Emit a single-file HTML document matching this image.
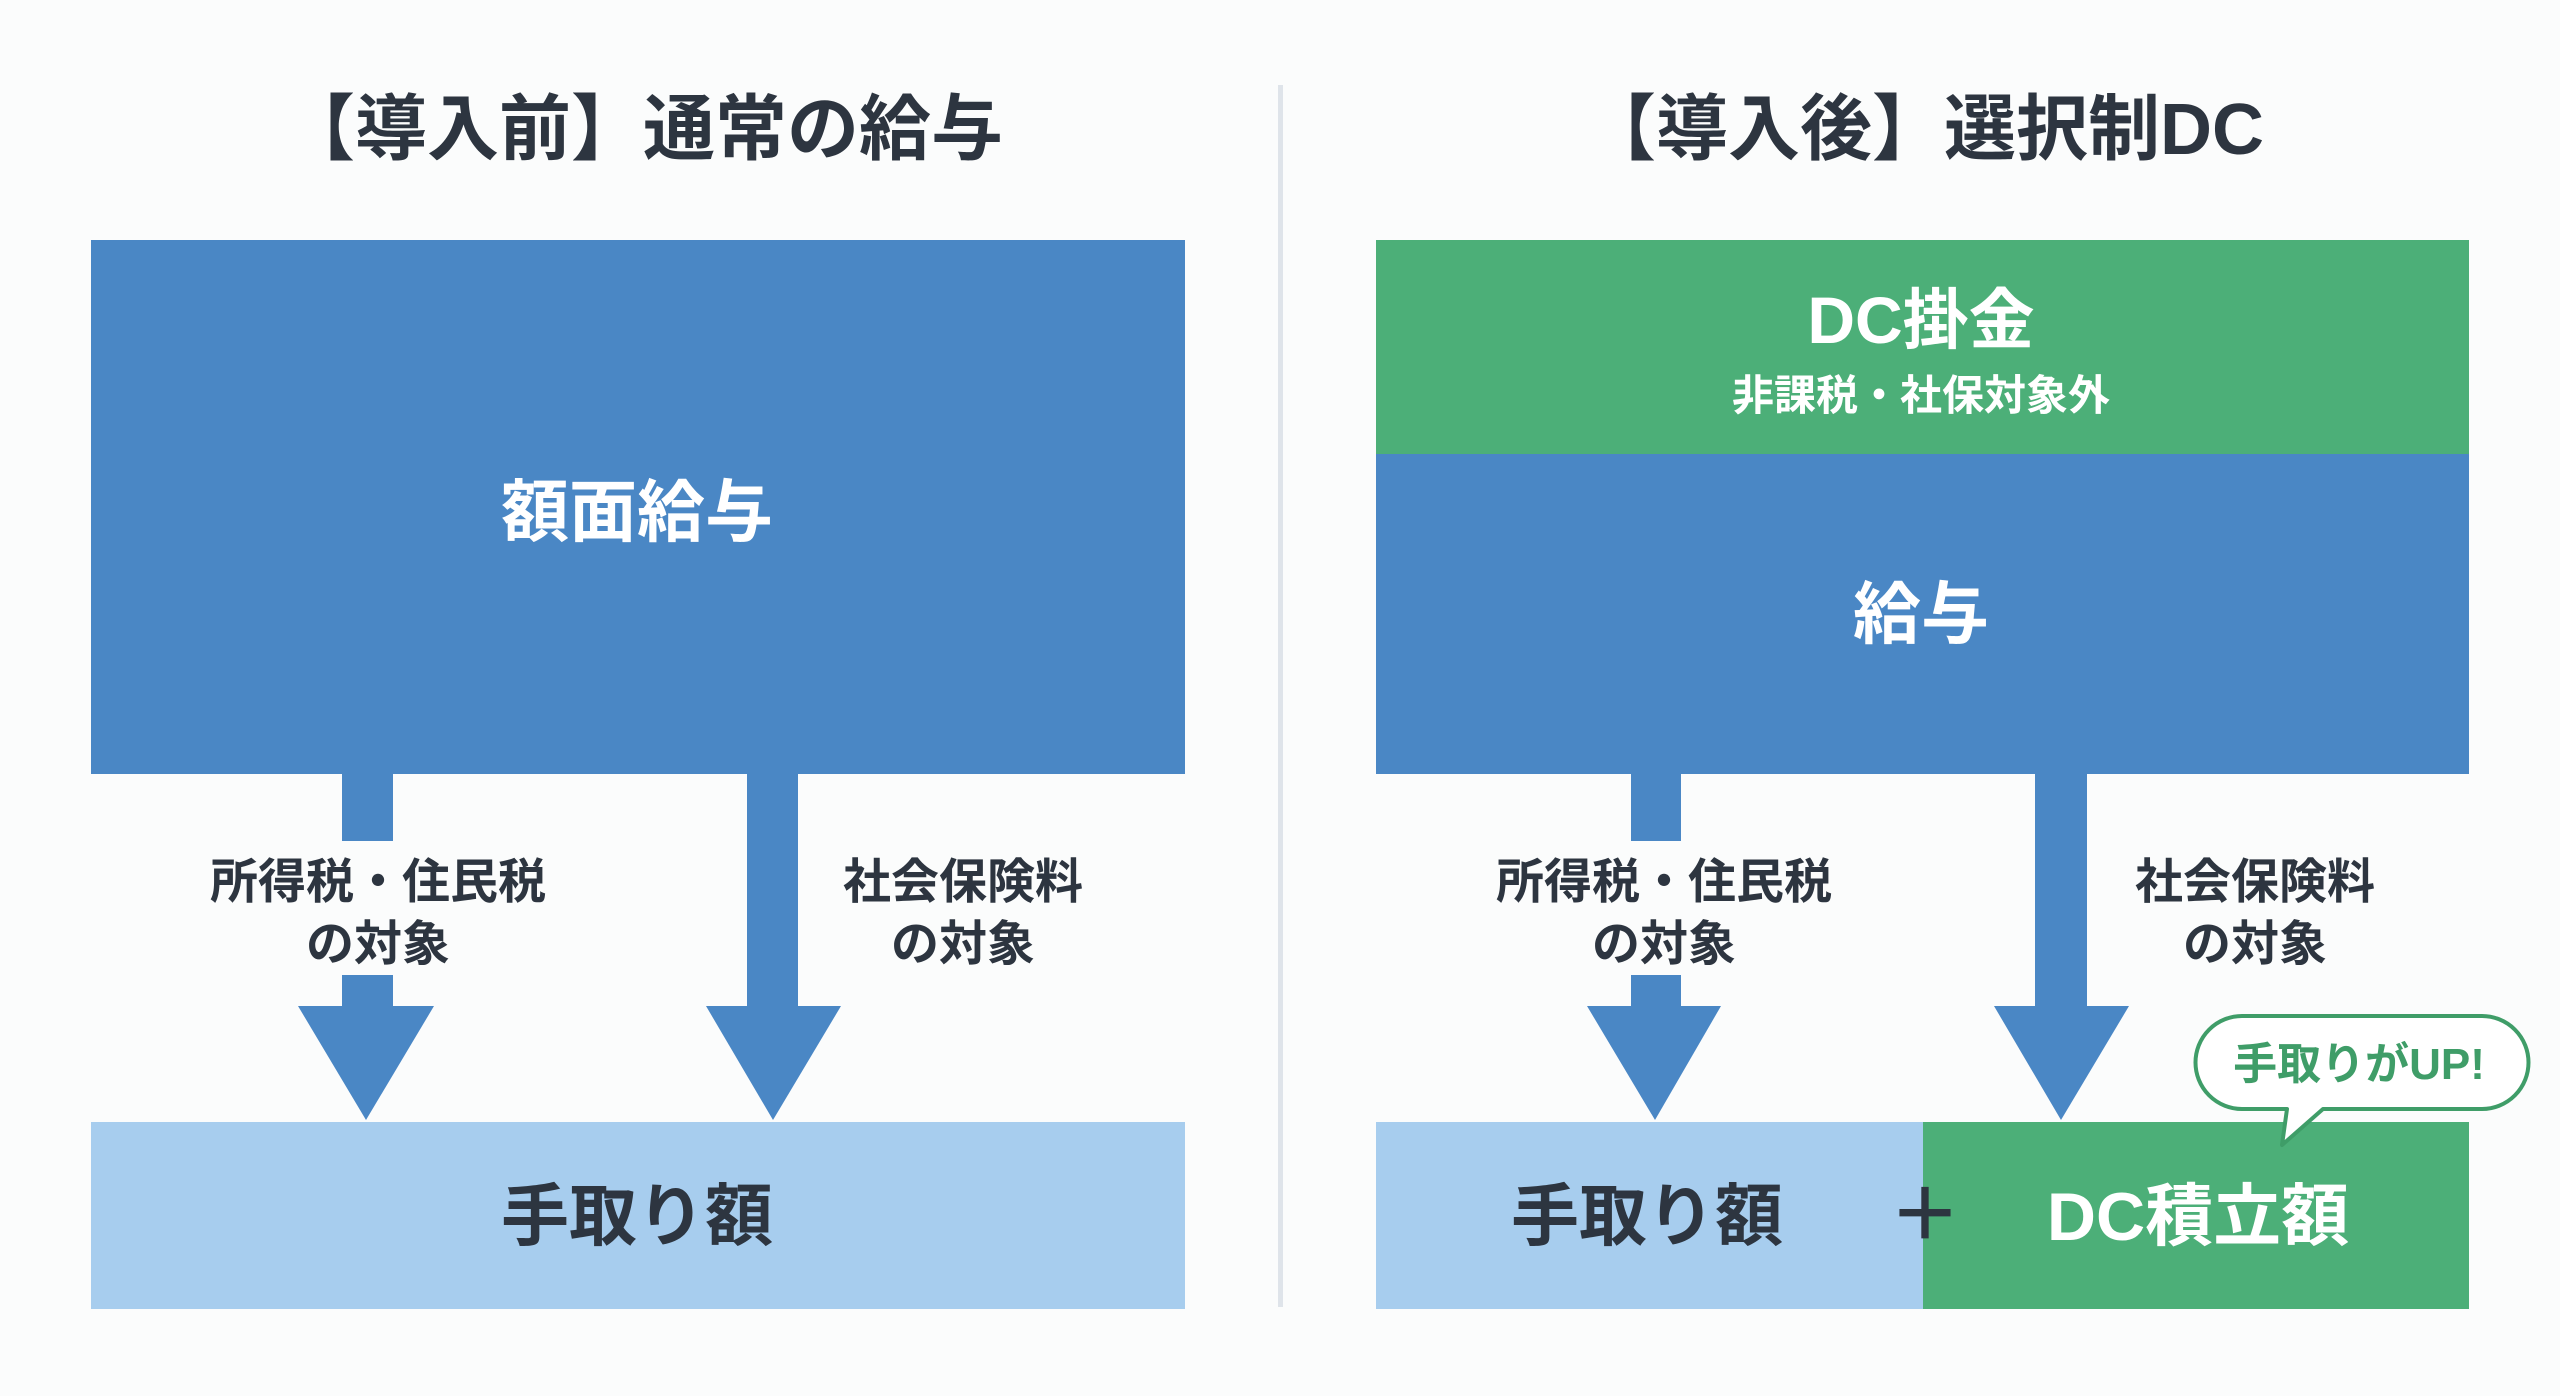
<!DOCTYPE html>
<html><head><meta charset="utf-8"><style>
html,body{margin:0;padding:0;background:#fbfcfc;}
svg{display:block;}
text{font-family:"Liberation Sans","Noto Sans CJK JP",sans-serif;font-weight:bold;}
</style></head><body>
<svg width="2560" height="1396" viewBox="0 0 2560 1396" xmlns="http://www.w3.org/2000/svg">
<rect width="2560" height="1396" fill="#fbfcfc"/>
<rect x="1278" y="85" width="5" height="1222" fill="#dfe4ea"/>

<text x="643" y="154" font-size="72" fill="#2d3540" text-anchor="middle">【導入前】通常の給与</text>
<rect x="91" y="240" width="1094" height="534" fill="#4a87c5"/>
<text x="637" y="536" font-size="68" fill="#ffffff" text-anchor="middle">額面給与</text>
<rect x="342" y="774" width="51" height="67" fill="#4a87c5"/>
<rect x="342" y="975" width="51" height="32" fill="#4a87c5"/>
<polygon points="298,1006 434,1006 366,1120" fill="#4a87c5"/>
<rect x="747" y="774" width="51" height="233" fill="#4a87c5"/>
<polygon points="706,1006 841,1006 773,1120" fill="#4a87c5"/>
<text x="378" y="898" font-size="48" fill="#2d3540" text-anchor="middle">所得税・住民税</text>
<text x="378" y="960" font-size="48" fill="#2d3540" text-anchor="middle">の対象</text>
<text x="963" y="898" font-size="48" fill="#2d3540" text-anchor="middle">社会保険料</text>
<text x="963" y="960" font-size="48" fill="#2d3540" text-anchor="middle">の対象</text>
<rect x="91" y="1122" width="1094" height="187" fill="#a7cdee"/>
<text x="637" y="1240" font-size="68" fill="#2d3540" text-anchor="middle">手取り額</text>

<text x="1924" y="154" font-size="72" fill="#2d3540" text-anchor="middle">【導入後】選択制DC</text>
<rect x="1376" y="240" width="1093" height="214" fill="#4caf78"/>
<text x="1921" y="343" font-size="66" fill="#ffffff" text-anchor="middle">DC掛金</text>
<text x="1921" y="410" font-size="42" fill="#ffffff" text-anchor="middle">非課税・社保対象外</text>
<rect x="1376" y="454" width="1093" height="320" fill="#4a87c5"/>
<text x="1921" y="638" font-size="68" fill="#ffffff" text-anchor="middle">給与</text>
<rect x="1631" y="774" width="50" height="67" fill="#4a87c5"/>
<rect x="1631" y="975" width="50" height="32" fill="#4a87c5"/>
<polygon points="1587,1006 1721,1006 1655,1120" fill="#4a87c5"/>
<rect x="2035" y="774" width="52" height="233" fill="#4a87c5"/>
<polygon points="1994,1006 2129,1006 2061,1120" fill="#4a87c5"/>
<text x="1664" y="898" font-size="48" fill="#2d3540" text-anchor="middle">所得税・住民税</text>
<text x="1664" y="960" font-size="48" fill="#2d3540" text-anchor="middle">の対象</text>
<text x="2255" y="898" font-size="48" fill="#2d3540" text-anchor="middle">社会保険料</text>
<text x="2255" y="960" font-size="48" fill="#2d3540" text-anchor="middle">の対象</text>
<rect x="1376" y="1122" width="547" height="187" fill="#a7cdee"/>
<rect x="1923" y="1122" width="546" height="187" fill="#4caf78"/>
<text x="1647" y="1240" font-size="68" fill="#2d3540" text-anchor="middle">手取り額</text>
<text x="1925" y="1240" font-size="72" fill="#2d3540" text-anchor="middle">＋</text>
<text x="2198" y="1240" font-size="68" fill="#ffffff" text-anchor="middle">DC積立額</text>
<path d="M2242,1016 H2482 A46,46 0 0 1 2482,1109 H2323 L2282,1145 L2287,1109 H2242 A46,46 0 0 1 2242,1016 Z" fill="#ffffff" stroke="#3f9d68" stroke-width="4" stroke-linejoin="round"/>
<text x="2359" y="1079" font-size="44" fill="#3f9d68" text-anchor="middle">手取りがUP!</text>
</svg>
</body></html>
